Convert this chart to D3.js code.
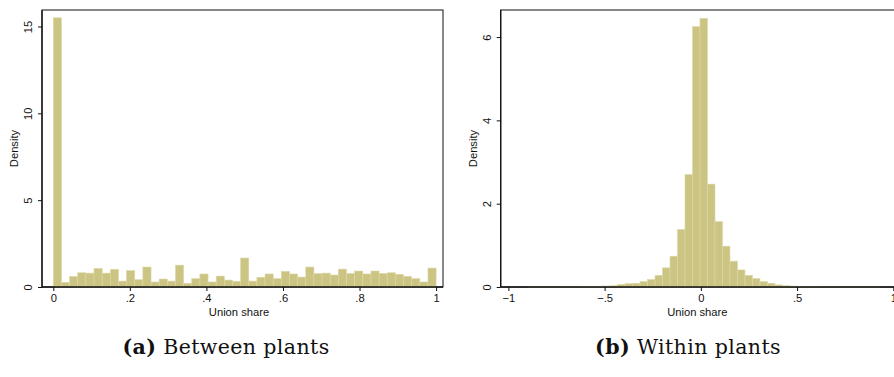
<!DOCTYPE html>
<html>
<head>
<meta charset="utf-8">
<script src="https://cdn.jsdelivr.net/npm/d3@7"></script>
<style>
  body { margin: 0; background: #fff; }
  svg { display: block; }
  .axis text { font-family: "Liberation Sans", Arial, sans-serif; font-size: 11.2px; fill: #111; }
  .axis path { display: none; }
  .axis line { stroke: #111; stroke-width: 1; }
  .title { font-family: "Liberation Sans", Arial, sans-serif; font-size: 11.2px; fill: #111; }
  .caption { font-family: "DejaVu Serif", "Liberation Serif", serif; font-size: 20.5px; letter-spacing: 0.4px; fill: #111; }
</style>
</head>
<body>
<svg id="chart" width="894" height="377"></svg>
<script>
// histogram of union share, 47 bins each
var betweenRange = [0, 1];
var betweenDensity = [15.5, 0.27, 0.61, 0.82, 0.80, 1.07, 0.80, 1.02, 0.34, 0.94,
    0.42, 1.15, 0.29, 0.46, 0.34, 1.26, 0.21, 0.48, 0.75, 0.29,
    0.63, 0.40, 0.33, 1.67, 0.34, 0.56, 0.75, 0.48, 0.90, 0.75,
    0.57, 1.15, 0.77, 0.80, 0.69, 1.03, 0.78, 0.92, 0.75, 0.92,
    0.78, 0.82, 0.73, 0.61, 0.48, 0.29, 1.09];

var withinRange = [-0.9, 0.93];
var withinDensity = [0.002, 0.002, 0.003, 0.003, 0.004, 0.005, 0.006, 0.008, 0.011, 0.016,
    0.025, 0.03, 0.06, 0.08, 0.09, 0.13, 0.18, 0.28, 0.46, 0.74,
    1.38, 2.70, 6.25, 6.45, 2.47, 1.57, 0.98, 0.62, 0.41, 0.28,
    0.20, 0.13, 0.09, 0.05, 0.03, 0.02, 0.015, 0.011, 0.008, 0.006,
    0.005, 0.004, 0.003, 0.003, 0.002, 0.002, 0.002];

var betweenTicksX = [0, 0.2, 0.4, 0.6, 0.8, 1];
var betweenTickLabelsX = ["0", ".2", ".4", ".6", ".8", "1"];
var betweenTicksY = [0, 5, 10, 15];

var withinTicksX = [-1, -0.5, 0, 0.5, 1];
var withinTickLabelsX = ["\u22121", "\u2212.5", "0", ".5", "1"];
var withinTicksY = [0, 2, 4, 6];

var captions = [["(a)", " Between plants"], ["(b)", " Within plants"]];

var svg = d3.select("#chart");
var barFill = "#cbc483", barLine = "#dcd8a6";

// draw one histogram panel
function panel(opt) {
    var g = svg.append("g");
    var x = d3.scaleLinear().domain(opt.xDomain).range([opt.left, opt.right]);
    var y = d3.scaleLinear().domain(opt.yDomain).range([opt.bottom, opt.top]);
    var n = opt.values.length;
    var w = (opt.range[1] - opt.range[0]) / n;

    // frame
    g.append("rect")
        .attr("x", opt.left).attr("y", opt.top)
        .attr("width", opt.right - opt.left).attr("height", opt.bottom - opt.top)
        .attr("fill", "none").attr("stroke", "#111").attr("stroke-width", 1);

    g.selectAll("rect.bar").data(opt.values).enter().append("rect")
        .attr("class", "bar")
        .attr("x", function(d, i) { return x(opt.range[0] + i * w); })
        .attr("width", function(d, i) { return x(opt.range[0] + (i + 1) * w) - x(opt.range[0] + i * w); })
        .attr("y", function(d) { return y(d); })
        .attr("height", function(d) { return y(0) - y(d); })
        .attr("fill", barFill)
        .attr("stroke", barLine)
        .attr("stroke-width", 0.6);

    // axes lines
    g.append("line").attr("x1", opt.left).attr("x2", opt.right)
        .attr("y1", opt.bottom).attr("y2", opt.bottom)
        .attr("stroke", "#111").attr("stroke-width", 1.3);
    g.append("line").attr("x1", opt.left).attr("x2", opt.left)
        .attr("y1", opt.top).attr("y2", opt.bottom)
        .attr("stroke", "#111").attr("stroke-width", 1.3);

    g.append("g").attr("class", "axis")
        .attr("transform", "translate(0," + opt.bottom + ")")
        .call(d3.axisBottom(x).tickValues(opt.ticksX)
            .tickFormat(function(d, i) { return opt.labelsX[i]; })
            .tickSizeInner(4).tickSizeOuter(0).tickPadding(3));

    var ya = g.append("g").attr("class", "axis")
        .attr("transform", "translate(" + opt.left + ",0)")
        .call(d3.axisLeft(y).tickValues(opt.ticksY).tickFormat(d3.format("d"))
            .tickSizeInner(4).tickSizeOuter(0));
    // Stata-style vertical tick labels
    ya.selectAll(".tick text")
        .attr("x", 0).attr("dy", null)
        .attr("text-anchor", "middle")
        .attr("transform", "translate(-10,0) rotate(-90)");

    g.append("text").attr("class", "title")
        .attr("x", (opt.left + opt.right) / 2 - 3.5).attr("y", opt.bottom + 29)
        .attr("text-anchor", "middle").text("Union share");
    g.append("text").attr("class", "title")
        .attr("transform", "translate(" + (opt.left - 24) + "," + ((opt.top + opt.bottom) / 2) + ") rotate(-90)")
        .attr("text-anchor", "middle").text("Density");

    var cap = g.append("text").attr("class", "caption")
        .attr("x", opt.capX).attr("y", 354).attr("text-anchor", "middle");
    cap.append("tspan").attr("font-weight", "bold").text(opt.caption[0]);
    cap.append("tspan").text(opt.caption[1]);
}

panel({
    values: betweenDensity, range: betweenRange,
    left: 42, right: 443, top: 10, bottom: 287,
    xDomain: [-0.0295, 1.018], yDomain: [0, 15.95],
    ticksX: betweenTicksX, labelsX: betweenTickLabelsX, ticksY: betweenTicksY,
    caption: captions[0], capX: 226
});

panel({
    values: withinDensity, range: withinRange,
    left: 500.7, right: 901, top: 10, bottom: 287,
    xDomain: [-1.04, 1.04], yDomain: [0, 6.65],
    ticksX: withinTicksX, labelsX: withinTickLabelsX, ticksY: withinTicksY,
    caption: captions[1], capX: 688
});
</script>
</body>
</html>
